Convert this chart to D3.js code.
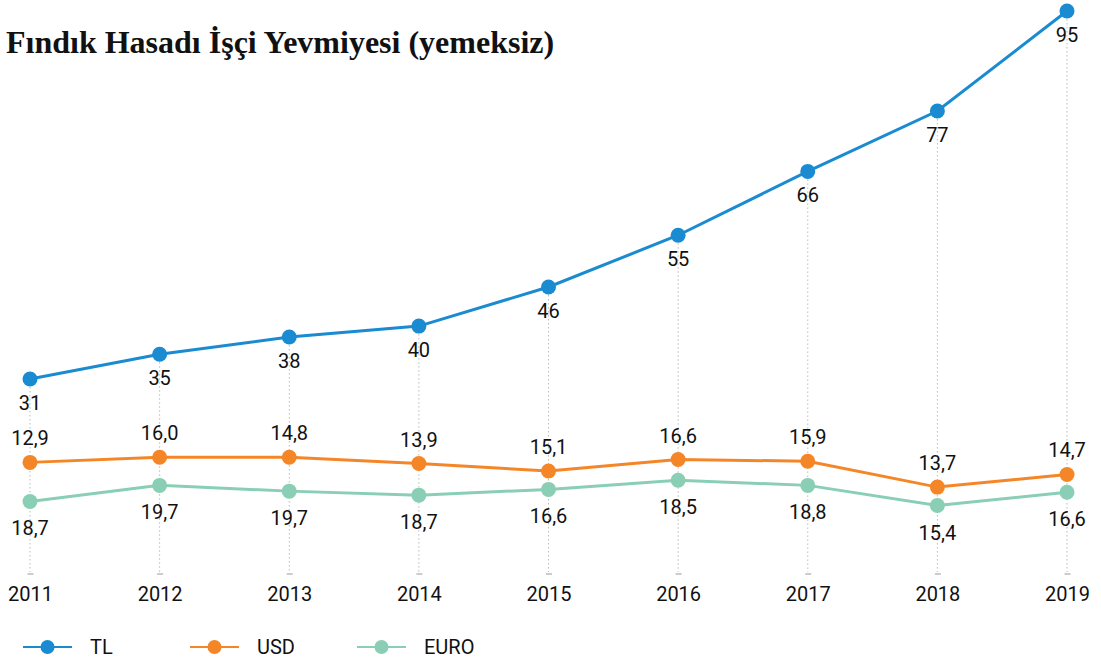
<!DOCTYPE html>
<html>
<head>
<meta charset="utf-8">
<script src="https://cdn.jsdelivr.net/npm/d3@7"></script>
<style>
  body { margin: 0; background: #fff; }
  svg text { font-family: Roboto, "Noto Sans", sans-serif; fill: #111; }
</style>
</head>
<body>
<div id="chart"></div>
<script>
// years on the x axis
let years = [2011, 2012, 2013, 2014, 2015, 2016, 2017, 2018, 2019];

let tlValues   = [31, 35.3, 38.3, 40.2, 47.0, 56.0, 67.1, 77.6, 95];
let usdValues  = [16.5, 17.4, 17.4, 16.3, 15.0, 17.0, 16.7, 12.2, 14.4];
let euroValues = [9.7, 12.5, 11.5, 10.8, 11.8, 13.4, 12.5, 9.0, 11.3];

// printed labels
let tlLabels   = ["31", "35", "38", "40", "46", "55", "66", "77", "95"];
let usdLabels  = ["12,9", "16,0", "14,8", "13,9", "15,1", "16,6", "15,9", "13,7", "14,7"];
let euroLabels = ["18,7", "19,7", "19,7", "18,7", "16,6", "18,5", "18,8", "15,4", "16,6"];

let seriesNames  = ["TL", "USD", "EURO"];
let seriesColors = ["#1a8bd0", "#f58628", "#8acfb5"];

let width = 1101, height = 663;

let svg = d3.select("#chart")
    .append("svg")
    .attr("width", width)
    .attr("height", height);

// title
svg.append("text")
    .attr("x", 6)
    .attr("y", 53)
    .style("font-family", "'Liberation Serif', 'Times New Roman', serif")
    .style("font-weight", "bold")
    .style("font-size", "32px")
    .text("Fındık Hasadı İşçi Yevmiyesi (yemeksiz)");

let x = d3.scalePoint()
    .domain(years)
    .range([30, 1067]);

let y = d3.scaleLinear()
    .domain([0, 100])
    .range([557.25, -17.75]);

let axisY = 574;

// dotted guide lines from the top point down to the axis
svg.append("g")
    .selectAll("line")
    .data(years)
    .join("line")
    .attr("x1", d => x(d))
    .attr("x2", d => x(d))
    .attr("y1", (d, i) => y(tlValues[i]))
    .attr("y2", axisY - 2)
    .attr("stroke", "#bbb")
    .attr("stroke-width", 1)
    .attr("stroke-dasharray", "1.5,2.5");

// x axis (no domain line, little dash for ticks)
let xAxis = svg.append("g")
    .attr("transform", `translate(0,${axisY})`)
    .call(d3.axisBottom(x).tickSize(0).tickPadding(21));
xAxis.select(".domain").remove();
xAxis.selectAll(".tick line").remove();
xAxis.selectAll(".tick")
    .append("line")
    .attr("x1", -3).attr("x2", 3)
    .attr("stroke", "#bbb")
    .attr("stroke-width", 1.5);
xAxis.selectAll(".tick text")
    .style("font-family", "Roboto, sans-serif")
    .style("font-size", "20px")
    .attr("fill", "#111")
    .attr("dy", "0.3em");

let series = [
    { name: "TL",   values: tlValues,   labels: tlLabels,   color: seriesColors[0], dy: 31 },
    { name: "USD",  values: usdValues,  labels: usdLabels,  color: seriesColors[1], dy: -17 },
    { name: "EURO", values: euroValues, labels: euroLabels, color: seriesColors[2], dy: 34 }
];

let line = d3.line()
    .x((d, i) => x(years[i]))
    .y(d => y(d));

series.forEach(function (s) {
    let g = svg.append("g");
    g.append("path")
        .datum(s.values)
        .attr("fill", "none")
        .attr("stroke", s.color)
        .attr("stroke-width", 3)
        .attr("d", line);
    g.selectAll("circle")
        .data(s.values)
        .join("circle")
        .attr("cx", (d, i) => x(years[i]))
        .attr("cy", d => y(d))
        .attr("r", 7.5)
        .attr("fill", s.color);
    g.selectAll("text")
        .data(s.values)
        .join("text")
        .attr("x", (d, i) => x(years[i]))
        .attr("y", d => y(d) + s.dy)
        .attr("text-anchor", "middle")
        .style("font-size", "20px")
        .text((d, i) => s.labels[i]);
});

// legend
let legend = svg.append("g")
    .attr("transform", "translate(23,647)");
let legendItem = legend.selectAll("g")
    .data(seriesNames)
    .join("g")
    .attr("transform", (d, i) => `translate(${i * 167},0)`);
legendItem.append("line")
    .attr("x1", 0).attr("x2", 49)
    .attr("stroke", (d, i) => seriesColors[i])
    .attr("stroke-width", 2);
legendItem.append("circle")
    .attr("cx", 24.5)
    .attr("r", 7)
    .attr("fill", (d, i) => seriesColors[i]);
legendItem.append("text")
    .attr("x", 67)
    .attr("dy", "0.35em")
    .style("font-size", "20px")
    .text(d => d);
</script>
</body>
</html>
